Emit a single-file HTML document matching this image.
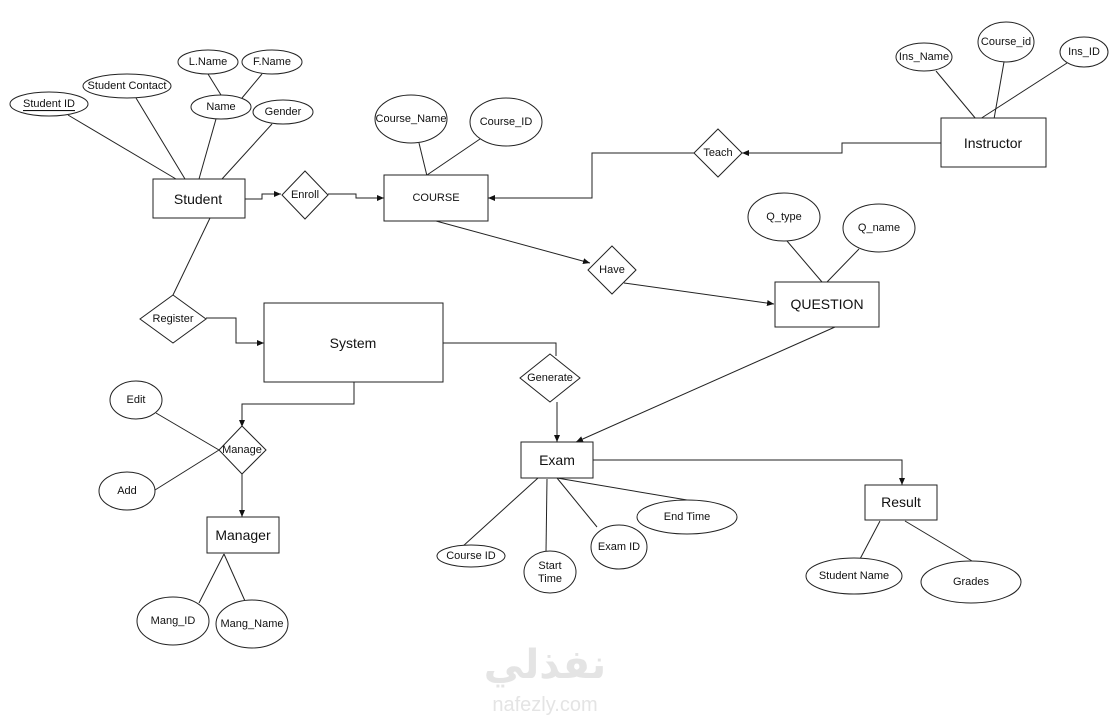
<!DOCTYPE html>
<html><head><meta charset="utf-8"><style>
html,body{margin:0;padding:0;background:#fff;}
svg{display:block;}
text{font-family:"Liberation Sans",Arial,sans-serif;fill:#111;text-anchor:middle;dominant-baseline:central;}
.a{font-size:11px;}
.e{font-size:14px;}
.r{font-size:11px;}
</style></head><body>
<svg width="1120" height="715" viewBox="0 0 1120 715" xmlns="http://www.w3.org/2000/svg">
<defs><marker id="ar" markerWidth="8" markerHeight="8" refX="7" refY="4" orient="auto" markerUnits="userSpaceOnUse"><path d="M0,1 L7,4 L0,7 Z" fill="#111"/></marker></defs>
<g stroke="#222" stroke-width="1" fill="none">
<!-- student attr lines -->
<line x1="68" y1="115" x2="176" y2="179"/>
<line x1="136" y1="98" x2="185" y2="179"/>
<line x1="216" y1="119" x2="199" y2="179"/>
<line x1="272" y1="124" x2="222" y2="179"/>
<line x1="208" y1="74" x2="221" y2="95"/>
<line x1="262" y1="74" x2="242" y2="98"/>
<polyline points="245,199 262,199 262,194 281,194" marker-end="url(#ar)"/>
<polyline points="328,194 356,194 356,198 384,198" marker-end="url(#ar)"/>
<line x1="419" y1="143" x2="427" y2="176"/>
<line x1="480" y1="139" x2="427" y2="175"/>
<line x1="436" y1="221" x2="590" y2="263" marker-end="url(#ar)"/>
<line x1="210" y1="218" x2="173" y2="295"/>
<polyline points="206,318 236,318 236,343 264,343" marker-end="url(#ar)"/>
<polyline points="443,343 556,343 556,356"/>
<!-- instructor -->
<line x1="936" y1="71" x2="976" y2="119"/>
<line x1="1004" y1="62" x2="994" y2="119"/>
<line x1="1067" y1="63" x2="980" y2="119"/>
<polyline points="941,143 842,143 842,153 742,153" marker-end="url(#ar)"/>
<polyline points="694,153 592,153 592,198 488,198" marker-end="url(#ar)"/>
<line x1="787" y1="241" x2="822" y2="282"/>
<line x1="859" y1="249" x2="827" y2="282"/>
<line x1="624" y1="283" x2="774" y2="304" marker-end="url(#ar)"/>
<line x1="835" y1="327" x2="576" y2="442" marker-end="url(#ar)"/>
<!-- manage -->
<polyline points="354,382 354,404 242,404 242,427" marker-end="url(#ar)"/>
<line x1="156" y1="413" x2="219" y2="450"/>
<line x1="155" y1="490" x2="219" y2="450"/>
<line x1="242" y1="474" x2="242" y2="517" marker-end="url(#ar)"/>
<line x1="224" y1="554" x2="199" y2="603"/>
<line x1="224" y1="554" x2="245" y2="601"/>
<!-- exam -->
<line x1="557" y1="402" x2="557" y2="442" marker-end="url(#ar)"/>
<polyline points="593,460 902,460 902,485" marker-end="url(#ar)"/>
<line x1="538" y1="478" x2="462" y2="547"/>
<line x1="547" y1="479" x2="546" y2="552"/>
<line x1="557" y1="478" x2="597" y2="527"/>
<line x1="557" y1="478" x2="687" y2="500"/>
<line x1="880" y1="521" x2="860" y2="559"/>
<line x1="905" y1="521" x2="972" y2="561"/>
</g>
<g stroke="#222" stroke-width="1" fill="#fff">
<!-- ellipses -->
<ellipse cx="49" cy="104" rx="39" ry="12"/>
<ellipse cx="127" cy="86" rx="44" ry="12"/>
<ellipse cx="208" cy="62" rx="30" ry="12"/>
<ellipse cx="272" cy="62" rx="30" ry="12"/>
<ellipse cx="221" cy="107" rx="30" ry="12"/>
<ellipse cx="283" cy="112" rx="30" ry="12"/>
<ellipse cx="411" cy="119" rx="36" ry="24"/>
<ellipse cx="506" cy="122" rx="36" ry="24"/>
<ellipse cx="924" cy="57" rx="28" ry="14"/>
<ellipse cx="1006" cy="42" rx="28" ry="20"/>
<ellipse cx="1084" cy="52" rx="24" ry="15"/>
<ellipse cx="784" cy="217" rx="36" ry="24"/>
<ellipse cx="879" cy="228" rx="36" ry="24"/>
<ellipse cx="136" cy="400" rx="26" ry="19"/>
<ellipse cx="127" cy="491" rx="28" ry="19"/>
<ellipse cx="173" cy="621" rx="36" ry="24"/>
<ellipse cx="252" cy="624" rx="36" ry="24"/>
<ellipse cx="471" cy="556" rx="34" ry="11"/>
<ellipse cx="550" cy="572" rx="26" ry="21"/>
<ellipse cx="619" cy="547" rx="28" ry="22"/>
<ellipse cx="687" cy="517" rx="50" ry="17"/>
<ellipse cx="854" cy="576" rx="48" ry="18"/>
<ellipse cx="971" cy="582" rx="50" ry="21"/>
<!-- rects -->
<rect x="153" y="179" width="92" height="39"/>
<rect x="384" y="175" width="104" height="46"/>
<rect x="264" y="303" width="179" height="79"/>
<rect x="941" y="118" width="105" height="49"/>
<rect x="775" y="282" width="104" height="45"/>
<rect x="207" y="517" width="72" height="36"/>
<rect x="521" y="442" width="72" height="36"/>
<rect x="865" y="485" width="72" height="35"/>
<!-- diamonds -->
<polygon points="305,171 328,195 305,219 282,195"/>
<polygon points="173,295 206,319 173,343 140,319"/>
<polygon points="718,129 742,153 718,177 694,153"/>
<polygon points="612,246 636,270 612,294 588,270"/>
<polygon points="242,426 266,450 242,474 219,450"/>
<polygon points="550,354 580,378 550,402 520,378"/>
</g>
<g class="a">
<text x="49" y="104" text-decoration="underline">Student ID</text>
<text x="127" y="86">Student Contact</text>
<text x="208" y="62">L.Name</text>
<text x="272" y="62">F.Name</text>
<text x="221" y="107">Name</text>
<text x="283" y="112">Gender</text>
<text x="411" y="119">Course_Name</text>
<text x="506" y="122">Course_ID</text>
<text x="924" y="57">Ins_Name</text>
<text x="1006" y="42">Course_id</text>
<text x="1084" y="52">Ins_ID</text>
<text x="784" y="217">Q_type</text>
<text x="879" y="228">Q_name</text>
<text x="136" y="400">Edit</text>
<text x="127" y="491">Add</text>
<text x="173" y="621">Mang_ID</text>
<text x="252" y="624">Mang_Name</text>
<text x="471" y="556">Course ID</text>
<text x="550" y="566">Start</text>
<text x="550" y="579">Time</text>
<text x="619" y="547">Exam ID</text>
<text x="687" y="517">End Time</text>
<text x="854" y="576">Student Name</text>
<text x="971" y="582">Grades</text>
<text x="305" y="195">Enroll</text>
<text x="173" y="319">Register</text>
<text x="718" y="153">Teach</text>
<text x="612" y="270">Have</text>
<text x="242" y="450">Manage</text>
<text x="550" y="378">Generate</text>
<text x="436" y="198">COURSE</text>
</g>
<g class="e">
<text x="198" y="199">Student</text>
<text x="353" y="343">System</text>
<text x="993" y="143">Instructor</text>
<text x="827" y="304">QUESTION</text>
<text x="243" y="535">Manager</text>
<text x="557" y="460">Exam</text>
<text x="901" y="502">Result</text>
</g>
<text x="545" y="665" style="font-family:'DejaVu Sans',sans-serif;font-size:40px;font-weight:bold;fill:#e4e4e4">نفذلي</text>
<text x="545" y="705" style="font-size:20px;fill:#e4e4e4">nafezly.com</text>
</svg>
</body></html>
